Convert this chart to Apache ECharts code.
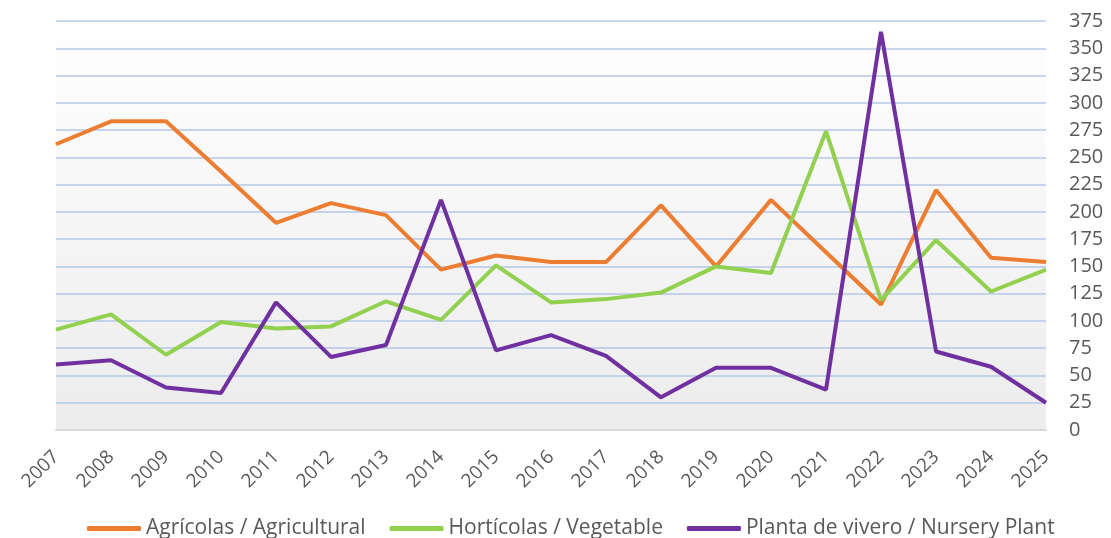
<!DOCTYPE html>
<html>
<head>
<meta charset="utf-8">
<script src="https://cdn.jsdelivr.net/npm/echarts@6/dist/echarts.min.js"></script>
<style>
  html, body { margin: 0; padding: 0; background: #fff; }
  #chart { width: 1111px; height: 538px; }
</style>
</head>
<body>
<div id="chart"></div>
<script>
// datos
var years = ['2007','2008','2009','2010','2011','2012','2013','2014','2015','2016',
             '2017','2018','2019','2020','2021','2022','2023','2024','2025'];
var seriesNames = ['Agrícolas / Agricultural', 'Hortícolas / Vegetable', 'Planta de vivero / Nursery Plant'];
var agricolas = [262, 283, 283, 237, 190, 208, 197, 147, 160, 154, 154, 206, 150, 211, 163, 115, 220, 158, 154];
var horticolas = [92, 106, 69, 99, 93, 95, 118, 101, 151, 117, 120, 126, 150, 144, 274, 119, 174, 127, 147];
var vivero = [60, 64, 39, 34, 117, 67, 78, 211, 73, 87, 68, 30, 57, 57, 37, 365, 72, 58, 25];
var colors = ['#ed7d31', '#92d050', '#7030a0'];

var chart = echarts.init(document.getElementById('chart'));
var txt = '#595959';
var font = '"Open Sans", "Noto Sans", sans-serif';

chart.setOption({
	animation: false,
	color: colors,
	grid: {
		left: 56,
		right: 65,
		top: 21,
		bottom: 108,
		show: true,
		borderWidth: 0,
		// fondo degradado blanco -> gris
		backgroundColor: new echarts.graphic.LinearGradient(0, 0, 0, 1, [
			{ offset: 0, color: '#ffffff' },
			{ offset: 1, color: '#ececec' }
		])
	},
	legend: {
		top: 513,
		left: 82,
		icon: 'roundRect',
		itemWidth: 54,
		itemHeight: 5,
		itemGap: 24,
		textStyle: { color: txt, fontSize: 21, fontFamily: font },
		data: seriesNames
	},
	xAxis: {
		type: 'category',
		boundaryGap: false,
		data: years,
		axisLine: { lineStyle: { color: '#d9d9d9', width: 2 } },
		axisTick: { show: false },
		axisLabel: {
			rotate: 45,
			margin: 24,
			color: txt,
			fontSize: 19,
			fontFamily: font
		}
	},
	yAxis: {
		type: 'value',
		position: 'right',
		min: 0,
		max: 375,
		interval: 25,
		axisLine: { show: false },
		axisTick: { show: false },
		axisLabel: { color: txt, fontSize: 20, fontFamily: font, margin: 23 },
		splitLine: { lineStyle: { color: '#b4c7e7', width: 1.5 } }
	},
	series: [
		{ name: seriesNames[0], type: 'line', data: agricolas, showSymbol: false, lineStyle: { width: 4 } },
		{ name: seriesNames[1], type: 'line', data: horticolas, showSymbol: false, lineStyle: { width: 4 } },
		{ name: seriesNames[2], type: 'line', data: vivero, showSymbol: false, lineStyle: { width: 4 } }
	]
});
</script>
</body>
</html>
